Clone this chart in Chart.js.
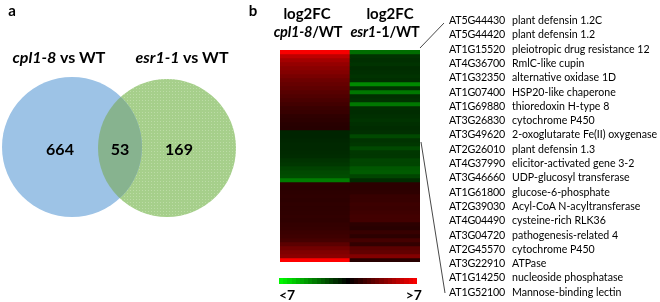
<!DOCTYPE html>
<html>
<head>
<meta charset="utf-8">
<script src="https://cdn.jsdelivr.net/npm/chart.js@4.4.0/dist/chart.umd.min.js"></script>
<style>
body { margin: 0; background: #fff; width: 660px; height: 302px; overflow: hidden; position: relative; font-family: Lato, sans-serif; color: #000; }
.t { position: absolute; white-space: nowrap; line-height: 1; }
canvas { position: absolute; }
svg { position: absolute; left: 0; top: 0; }
</style>
</head>
<body>
<canvas id="venn" width="250" height="302" style="left:0;top:0"></canvas>
<canvas id="heat" width="140" height="212" style="left:280px;top:50px"></canvas>
<canvas id="scale" width="138" height="6" style="left:279px;top:278px"></canvas>
<svg width="660" height="302">
  <line x1="420" y1="48" x2="444" y2="23" stroke="#333" stroke-width="0.9"/>
  <line x1="421" y1="142" x2="445" y2="293" stroke="#333" stroke-width="0.9"/>
</svg>
<script>
// --- data ---
const setNames = ['cpl1-8', 'esr1-1'];
const vennCounts = [664, 53, 169];   // only cpl1-8, both, only esr1-1
const columns = ['cpl1-8/WT', 'esr1-1/WT'];

// log2FC per gene row, top to bottom (53 shared genes)
const cpl18 = [
    6.8, 5.2, 4.5, 4.1, 3.8, 3.6, 3.3, 3.0, 2.8, 2.6,
    2.4, 2.2, 2.0, 1.8, 1.6, 1.5, 1.3, 1.2, 1.1, 1.05,
    -1.0, -1.0, -1.05, -1.1, -1.1, -1.15, -1.2, -1.4, -1.5, -1.8,
    -2.0, -2.1, -3.4,
    1.2, 1.15, 1.2, 1.25, 1.2, 1.3, 1.25, 1.3, 1.35, 1.3,
    1.4, 1.45, 1.6, 1.7, 1.9, 2.5, 3.1, 3.5, 3.8, 7.0
];
const esr11 = [
    -3.0, -1.4, -1.3, -1.4, -1.2, -1.3, -1.4, -1.3, -3.8, -1.4,
    -3.3, -1.3, -1.4, -3.3, -1.3, -1.2, -1.3, -1.4, -1.3, -1.2,
    -1.3, -2.0, -1.4, -1.5, -2.0, -1.5, -1.5, -1.9, -1.9, -2.4,
    -2.5, -1.9, -1.2,
    1.2, 1.2, 1.25, 1.5, 1.5, 1.65, 1.6, 1.7, 1.8, 1.8,
    1.2, 1.1, 1.5, 1.2, 1.9, 1.4, 2.5, 2.7, 3.6, 1.1
];

const geneIds = ['AT5G44430', 'AT5G44420', 'AT1G15520', 'AT4G36700', 'AT1G32350', 'AT1G07400', 'AT1G69880',
    'AT3G26830', 'AT3G49620', 'AT2G26010', 'AT4G37990', 'AT3G46660', 'AT1G61800', 'AT2G39030',
    'AT4G04490', 'AT3G04720', 'AT2G45570', 'AT3G22910', 'AT1G14250', 'AT1G52100'];
const geneNames = ['plant defensin 1.2C', 'plant defensin 1.2', 'pleiotropic drug resistance 12', 'RmlC-like cupin',
    'alternative oxidase 1D', 'HSP20-like chaperone', 'thioredoxin H-type 8', 'cytochrome P450',
    '2-oxoglutarate Fe(II) oxygenase', 'plant defensin 1.3', 'elicitor-activated gene 3-2',
    'UDP-glucosyl transferase', 'glucose-6-phosphate', 'Acyl-CoA N-acyltransferase', 'cysteine-rich RLK36',
    'pathogenesis-related 4', 'cytochrome P450', 'ATPase', 'nucleoside phosphatase', 'Mannose-binding lectin'];

const scaleLimit = 7;
const scaleTicks = ['<7', '>7'];

// --- helpers ---
function fcColor(v) {
    const k = Math.min(Math.abs(v), scaleLimit) / scaleLimit;
    const c = Math.round(255 * k);
    return v >= 0 ? `rgb(${c},0,0)` : `rgb(0,${c},0)`;
}

function place(html, x, y, opt) {
    const d = document.createElement('div');
    d.className = 't';
    d.innerHTML = html;
    d.style.left = x + 'px';
    d.style.top = y + 'px';
    d.style.fontSize = (opt.size || 12) + 'px';
    d.style.fontWeight = opt.bold ? '700' : '400';
    if (opt.spacing) d.style.letterSpacing = opt.spacing + 'px';
    const tx = opt.align === 'left' ? '0' : (opt.align === 'right' ? '-100%' : '-50%');
    d.style.transform = `translate(${tx},-50%)`;
    document.body.appendChild(d);
}

function dotPattern(base, dot) {
    const c = document.createElement('canvas');
    c.width = 3; c.height = 3;
    const g = c.getContext('2d');
    g.fillStyle = base; g.fillRect(0, 0, 3, 3);
    g.fillStyle = dot; g.fillRect(1, 1, 1, 1);
    return g.createPattern(c, 'repeat');
}

// --- venn ---
const vennLayout = { blue: { x: 72, y: 147, r: 70 }, green: { x: 167, y: 148, r: 69 } };

const vennOverlap = {
    id: 'vennOverlap',
    afterDatasetsDraw(chart) {
        const a = chart.getDatasetMeta(0).data[0];
        const b = chart.getDatasetMeta(1).data[0];
        const ctx = chart.ctx;
        ctx.save();
        ctx.beginPath();
        ctx.arc(a.x, a.y, a.options.radius, 0, Math.PI * 2);
        ctx.clip();
        ctx.beginPath();
        ctx.arc(b.x, b.y, b.options.radius, 0, Math.PI * 2);
        ctx.fillStyle = '#87b38f';
        ctx.fill();
        ctx.restore();
    }
};

new Chart(document.getElementById('venn'), {
    type: 'bubble',
    data: {
        datasets: [
            { data: [vennLayout.blue], backgroundColor: '#9dc3e6', borderWidth: 0 },
            { data: [vennLayout.green], backgroundColor: dotPattern('#a6cf8b', '#bcdca6'), borderWidth: 0 }
        ]
    },
    options: {
        responsive: false,
        animation: false,
        events: [],
        layout: { autoPadding: false, padding: 0 },
        scales: {
            x: { type: 'linear', min: 0, max: 250, display: false },
            y: { type: 'linear', min: 0, max: 302, reverse: true, display: false }
        },
        plugins: { legend: { display: false }, tooltip: { enabled: false } }
    },
    plugins: [vennOverlap]
});

// --- heatmap ---
const heatDatasets = cpl18.map((v, i) => ({
    data: [1, 1],
    backgroundColor: [fcColor(v), fcColor(esr11[i])],
    borderWidth: 0,
    barPercentage: 1,
    categoryPercentage: 1
}));

new Chart(document.getElementById('heat'), {
    type: 'bar',
    data: { labels: columns, datasets: heatDatasets },
    options: {
        responsive: false,
        animation: false,
        events: [],
        layout: { padding: 0 },
        scales: {
            x: { stacked: true, display: false },
            y: { stacked: true, min: 0, max: cpl18.length, reverse: true, display: false }
        },
        plugins: { legend: { display: false }, tooltip: { enabled: false } }
    }
});

// --- colour scale ---
new Chart(document.getElementById('scale'), {
    type: 'bar',
    data: {
        labels: ['log2FC'],
        datasets: [{
            data: [[-scaleLimit, scaleLimit]],
            backgroundColor: (c) => {
                const area = c.chart.chartArea;
                if (!area) return null;
                const g = c.chart.ctx.createLinearGradient(area.left, 0, area.right, 0);
                const n = 33;
                for (let k = 0; k < n; k++) {
                    const v = -scaleLimit + 2 * scaleLimit * (k + 0.5) / n;
                    g.addColorStop(k / n, fcColor(v));
                    g.addColorStop((k + 1) / n, fcColor(v));
                }
                return g;
            },
            borderWidth: 0,
            barPercentage: 1,
            categoryPercentage: 1
        }]
    },
    options: {
        indexAxis: 'y',
        responsive: false,
        animation: false,
        events: [],
        layout: { padding: 0 },
        scales: {
            x: { min: -scaleLimit, max: scaleLimit, display: false },
            y: { display: false }
        },
        plugins: { legend: { display: false }, tooltip: { enabled: false } }
    }
});

// --- texts ---
place('a', 12, 10, { size: 15, bold: true });
place('b', 253, 10, { size: 15, bold: true });

place(`<i>${setNames[0]}</i> vs WT`, 59, 57, { size: 16, bold: true });
place(`<i>${setNames[1]}</i> vs WT`, 182, 57, { size: 16, bold: true });

place(vennCounts[0], 60, 149, { size: 16, bold: true });
place(vennCounts[1], 120, 149, { size: 16, bold: true });
place(vennCounts[2], 179, 149, { size: 16, bold: true });

place('log2FC', 307, 13, { size: 15, bold: true });
place('log2FC', 390, 13, { size: 15, bold: true });
place(`<i>${columns[0].split('/')[0]}</i>/WT`, 308, 32, { size: 14.5, bold: true, spacing: -0.2 });
place(`<i>esr1</i>-1/WT`, 385, 32, { size: 14.5, bold: true, spacing: -0.2 });

place(scaleTicks[0], 279, 295, { size: 14, bold: true, align: 'left' });
place(scaleTicks[1], 422, 295, { size: 14, bold: true, align: 'right' });

geneIds.forEach((id, i) => {
    const y = 20 + i * 14.3;
    place(id, 449, y, { size: 10.7, align: 'left', spacing: -0.2 });
    place(geneNames[i], 512, y, { size: 10.6, align: 'left' });
});
</script>
</body>
</html>
